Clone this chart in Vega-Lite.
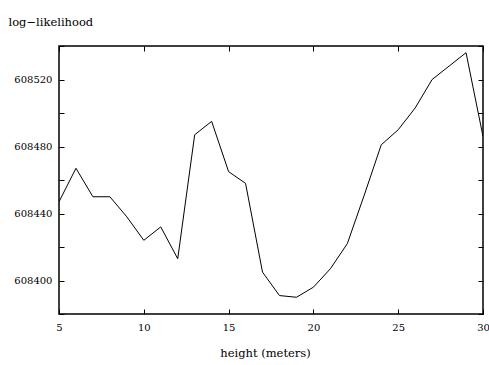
{
  "$schema": "https://vega.github.io/schema/vega-lite/v6.json",
  "width": 424,
  "height": 268,
  "autosize": {"type": "none"},
  "padding": {"left": 59, "top": 46, "right": 6, "bottom": 51},
  "background": "white",
  "data": {"values": [
    {"h": 5, "ll": 608447}, {"h": 6, "ll": 608467}, {"h": 7, "ll": 608450}, {"h": 8, "ll": 608450},
    {"h": 9, "ll": 608438}, {"h": 10, "ll": 608424}, {"h": 11, "ll": 608432}, {"h": 12, "ll": 608413},
    {"h": 13, "ll": 608487}, {"h": 14, "ll": 608495}, {"h": 15, "ll": 608465}, {"h": 16, "ll": 608458},
    {"h": 17, "ll": 608405}, {"h": 18, "ll": 608391}, {"h": 19, "ll": 608390}, {"h": 20, "ll": 608396},
    {"h": 21, "ll": 608407}, {"h": 22, "ll": 608422}, {"h": 23, "ll": 608451}, {"h": 24, "ll": 608481},
    {"h": 25, "ll": 608490}, {"h": 26, "ll": 608503}, {"h": 27, "ll": 608520}, {"h": 28, "ll": 608528},
    {"h": 29, "ll": 608536}, {"h": 30, "ll": 608486}
  ]},
  "config": {
    "view": {"stroke": "black", "strokeWidth": 1.5},
    "font": "DejaVu Serif",
    "axis": {
      "domain": false, "grid": false, "tickColor": "black", "tickSize": -5, "tickWidth": 1,
      "labelFont": "DejaVu Serif", "labelFontSize": 10, "labelColor": "black",
      "titleFont": "DejaVu Serif", "titleFontSize": 11.5, "titleFontWeight": "normal", "titleColor": "black"
    }
  },
  "resolve": {"axis": {"x": "independent", "y": "independent"}},
  "layer": [
    {
      "mark": {"type": "line", "color": "black", "strokeWidth": 1, "clip": true},
      "encoding": {
        "x": {"field": "h", "type": "quantitative", "scale": {"domain": [5, 30], "nice": false, "zero": false},
          "axis": {"orient": "bottom", "values": [5, 10, 15, 20, 25, 30], "labelPadding": 13, "labelFlush": false, "labelOverlap": false,
            "title": "height (meters)", "titlePadding": 15, "titleX": 206}},
        "y": {"field": "ll", "type": "quantitative", "scale": {"domain": [608380, 608540], "nice": false, "zero": false},
          "axis": {"orient": "left", "values": [608380, 608400, 608420, 608440, 608460, 608480, 608500, 608520, 608540],
            "format": "d", "labelExpr": "datum.value % 40 == 0 && datum.value > 608380 && datum.value < 608540 ? datum.label : ''",
            "labelPadding": 12, "labelOverlap": false,
            "title": "log−likelihood", "titleAngle": 0, "titleAlign": "left", "titleBaseline": "alphabetic", "titleX": -51, "titleY": -21}}
      }
    },
    {
      "mark": {"type": "line", "strokeOpacity": 0},
      "encoding": {
        "x": {"field": "h", "type": "quantitative", "axis": {"orient": "top", "values": [5, 10, 15, 20, 25, 30], "labels": false, "title": null}},
        "y": {"field": "ll", "type": "quantitative", "axis": {"orient": "right", "values": [608380, 608400, 608420, 608440, 608460, 608480, 608500, 608520, 608540], "labels": false, "title": null}}
      }
    }
  ]
}
